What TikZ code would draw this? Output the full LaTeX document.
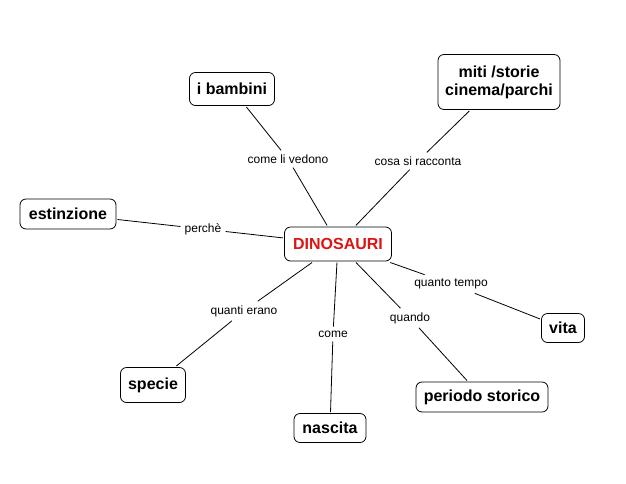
\documentclass[tikz,border=0pt]{standalone}
\usepackage{fontspec}
\setmainfont{Liberation Sans}
\definecolor{dinored}{RGB}{220,20,20}
\begin{document}
\begin{tikzpicture}[x=1pt,y=-1pt,
  box/.style={draw, rounded corners=6pt, line width=0.8pt, font=\fontsize{16}{18}\selectfont\bfseries, inner sep=0pt, align=center, outer sep=1.5pt},
  lab/.style={font=\fontsize{12}{14}\selectfont, inner sep=4pt},
  conn/.style={line width=0.8pt}]
\useasboundingbox[fill=white] (0,0) rectangle (626,483);
\node[box, minimum width=85pt, minimum height=33pt] (bambini) at (232,89) {i bambini};
\node[box, minimum width=122pt, minimum height=55pt] (miti) at (499,82) {miti /storie\\cinema/parchi};
\node[box, minimum width=107pt, minimum height=34pt, text=dinored] (dino) at (338,244) {DINOSAURI};
\node[box, minimum width=96pt, minimum height=30pt] (estinzione) at (68,214) {estinzione};
\node[box, minimum width=43pt, minimum height=29pt] (vita) at (563,328) {vita};
\node[box, minimum width=65pt, minimum height=35pt] (specie) at (153,385) {specie};
\node[box, minimum width=132pt, minimum height=30pt] (periodo) at (482,397) {periodo storico};
\node[box, minimum width=72pt, minimum height=29pt] (nascita) at (330,428) {nascita};

\node[lab] (l1) at (288,159) {come li vedono};
\node[lab] (l2) at (418,161) {cosa si racconta};
\node[lab] (l3) at (203,229) {perchè};
\node[lab] (l4) at (451,284) {quanto tempo};
\node[lab] (l5) at (244,311) {quanti erano};
\node[lab] (l6) at (333,334) {come};
\node[lab] (l7) at (410,318) {quando};

\draw[conn] (bambini) -- (l1);
\draw[conn] (l1) -- (dino);
\draw[conn] (miti) -- (l2);
\draw[conn] (l2) -- (dino);
\draw[conn] (estinzione) -- (l3);
\draw[conn] (l3) -- (dino);
\draw[conn] (dino) -- (l4);
\draw[conn] (l4) -- (vita);
\draw[conn] (dino) -- (l5);
\draw[conn] (l5) -- (specie);
\draw[conn] (dino) -- (l6);
\draw[conn] (l6) -- (nascita);
\draw[conn] (dino) -- (l7);
\draw[conn] (l7) -- (periodo);
\end{tikzpicture}
\end{document}
